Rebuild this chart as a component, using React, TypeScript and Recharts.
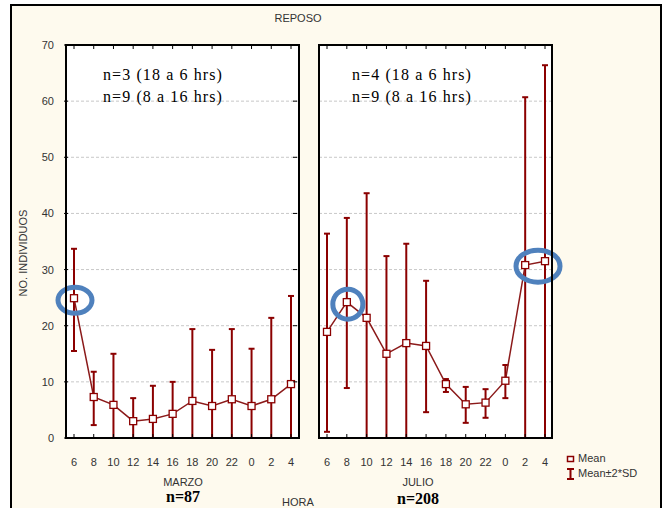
import { ComposedChart, Line, XAxis, YAxis, CartesianGrid, ErrorBar, ReferenceDot } from 'recharts';

const horas = ['6', '8', '10', '12', '14', '16', '18', '20', '22', '0', '2', '4'];
const yTicks = [0, 10, 20, 30, 40, 50, 60, 70];

// MARZO
const marzoMedia = [24.9, 7.3, 5.9, 3.0, 3.4, 4.3, 6.6, 5.7, 6.9, 5.7, 6.9, 9.6];
const marzoBajo = [15.5, 2.3, 0, 0, 0, 0, 0, 0, 0, 0, 0, 0];
const marzoAlto = [33.7, 11.8, 15.0, 7.1, 9.3, 10.0, 19.4, 15.7, 19.4, 15.9, 21.4, 25.3];

// JULIO
const julioMedia = [18.9, 24.2, 21.4, 15.0, 16.9, 16.4, 9.6, 6.0, 6.3, 10.2, 30.8, 31.5];
const julioBajo = [1.1, 8.9, 0, 0, 0, 4.6, 8.2, 2.7, 3.6, 7.1, 0, 0];
const julioAlto = [36.4, 39.2, 43.6, 32.4, 34.6, 28.0, 10.5, 9.1, 8.7, 13.0, 60.7, 66.4];

const ROJO = '#8b0000';
const SANS = '"Liberation Sans", Arial, sans-serif';
const SERIF = '"Liberation Serif", "Times New Roman", serif';

// area de trazado (px)
const TOP = 45;
const BOTTOM = 438;
const ANCHO = 233;

function armar(media: number[], bajo: number[], alto: number[]) {
  return horas.map((h, i) => ({
    hora: h,
    media: media[i],
    err: [media[i] - bajo[i], alto[i] - media[i]],
  }));
}

const Cuadro = (p: any) => {
  if (p.cx == null) return null;
  return (
    <rect key={p.index} x={p.cx - 3.5} y={p.cy - 3.5} width={7} height={7} fill="#fff" stroke={ROJO} strokeWidth={1.3} />
  );
};

const Elipse = (rx: number, ry: number, dx: number, dy: number) => (p: any) => (
  <ellipse cx={p.cx + dx} cy={p.cy + dy} rx={rx} ry={ry} fill="none" stroke="#4f81bd" strokeWidth={5} />
);

function Panel({ datos, conEtiquetas, marcas }: any) {
  const YTick = (p: any) => (
    <g>
      {conEtiquetas && (
        <text x={p.x - 10} y={p.y + 4} textAnchor="end" fontSize={11} fontFamily={SANS} fill="#333">
          {p.payload.value}
        </text>
      )}
      <line x1={p.x} x2={p.x + 4} y1={p.y} y2={p.y} stroke="#000" />
      <line x1={p.x + ANCHO - 4} x2={p.x + ANCHO} y1={p.y} y2={p.y} stroke="#000" />
    </g>
  );
  const XTick = (p: any) => (
    <g>
      <line x1={p.x} x2={p.x} y1={BOTTOM} y2={BOTTOM - 4} stroke="#000" />
      <line x1={p.x} x2={p.x} y1={TOP} y2={TOP + 4} stroke="#000" />
      <text x={p.x} y={p.y + 26} textAnchor="middle" fontSize={11} fontFamily={SANS} fill="#333">
        {p.payload.value}
      </text>
    </g>
  );

  return (
    <ComposedChart
      width={conEtiquetas ? 310 : 264}
      height={508}
      data={datos}
      margin={{ top: TOP, right: 11, bottom: 40, left: conEtiquetas ? 0 : 19 }}
    >
      <CartesianGrid vertical={false} strokeDasharray="3 2" stroke="#c8c8c8" fill="#fff" />
      <XAxis dataKey="hora" height={30} padding={{ left: 8, right: 8 }} tickSize={0} tickLine={false} axisLine={false} interval={0} tick={XTick} />
      <YAxis domain={[0, 70]} ticks={yTicks} width={conEtiquetas ? 66 : 0} tickSize={0} tickLine={false} axisLine={false} tick={YTick} />
      <Line dataKey="media" stroke="#8b1a1a" strokeWidth={1.5} dot={Cuadro} activeDot={false} isAnimationActive={false}>
        <ErrorBar dataKey="err" direction="y" width={3} stroke={ROJO} strokeWidth={2} />
      </Line>
      {marcas.map((m: any, i: number) => (
        <ReferenceDot key={i} x={m.x} y={m.y} r={1} ifOverflow="visible" shape={Elipse(m.rx, m.ry, m.dx, m.dy)} />
      ))}
    </ComposedChart>
  );
}

const txt = (extra: any) => ({ position: 'absolute' as const, whiteSpace: 'nowrap' as const, ...extra });
const marco = (left: number) => ({
  position: 'absolute' as const, left: left - 1, top: TOP - 1, width: ANCHO - 2, height: BOTTOM - TOP - 2,
  border: '2px solid #000', pointerEvents: 'none' as const,
});

export default function App() {
  const marzo = armar(marzoMedia, marzoBajo, marzoAlto);
  const julio = armar(julioMedia, julioBajo, julioAlto);
  return (
    <div style={{ position: 'absolute', left: 0, top: 0, width: 664, height: 508, overflow: 'hidden', background: '#fff' }}>
      <div
        style={{
          position: 'absolute', left: 10, top: 4, width: 648, height: 520,
          border: '2px solid #000', borderBottom: 'none', background: '#fefaee',
        }}
      />
      <div style={{ position: 'absolute', left: 0, top: 0 }}>
        <Panel datos={marzo} conEtiquetas marcas={[{ x: '6', y: 24.9, rx: 17, ry: 13, dx: 1, dy: 2 }]} />
      </div>
      <div style={{ position: 'absolute', left: 300, top: 0 }}>
        <Panel
          datos={julio}
          marcas={[
            { x: '8', y: 24.2, rx: 15, ry: 15, dx: 1, dy: 2 },
            { x: '4', y: 31.5, rx: 22, ry: 16, dx: -7, dy: 5 },
          ]}
        />
      </div>
      <div style={marco(66)} />
      <div style={marco(319)} />

      <div style={txt({ left: 298, top: 18, transform: 'translate(-50%,-50%)', font: `11px ${SANS}`, color: '#333' })}>REPOSO</div>
      <div style={txt({ left: 23, top: 253, transform: 'translate(-50%,-50%) rotate(-90deg)', font: `11px ${SANS}`, color: '#333' })}>NO. INDIVIDUOS</div>

      <div style={txt({ left: 103, top: 64, font: `16px ${SERIF}`, lineHeight: '22px', letterSpacing: 1.1, color: '#000' })}>
        n=3 (18 a 6 hrs)<br />n=9 (8 a 16 hrs)
      </div>
      <div style={txt({ left: 352, top: 64, font: `16px ${SERIF}`, lineHeight: '22px', letterSpacing: 1.1, color: '#000' })}>
        n=4 (18 a 6 hrs)<br />n=9 (8 a 16 hrs)
      </div>

      <div style={txt({ left: 183, top: 482, transform: 'translate(-50%,-50%)', font: `11px ${SANS}`, color: '#333' })}>MARZO</div>
      <div style={txt({ left: 183, top: 497, transform: 'translate(-50%,-50%)', font: `bold 16px ${SERIF}`, color: '#000' })}>n=87</div>
      <div style={txt({ left: 298, top: 502, transform: 'translate(-50%,-50%)', font: `11px ${SANS}`, color: '#333' })}>HORA</div>
      <div style={txt({ left: 418, top: 482, transform: 'translate(-50%,-50%)', font: `11px ${SANS}`, color: '#333' })}>JULIO</div>
      <div style={txt({ left: 418, top: 499, transform: 'translate(-50%,-50%)', font: `bold 16px ${SERIF}`, color: '#000' })}>n=208</div>

      <div style={txt({ left: 566, top: 451, font: `11px ${SANS}`, color: '#333', lineHeight: '15px' })}>
        <div>
          <svg width={10} height={10} style={{ verticalAlign: 'middle', marginRight: 2 }}>
            <rect x={1.5} y={2.5} width={6} height={5} fill="#fff" stroke={ROJO} strokeWidth={1.5} />
          </svg>
          Mean
        </div>
        <div>
          <svg width={10} height={12} style={{ verticalAlign: 'middle', marginRight: 2 }}>
            <line x1={1} x2={8} y1={1} y2={1} stroke={ROJO} strokeWidth={2} />
            <line x1={4.5} x2={4.5} y1={1} y2={11} stroke={ROJO} strokeWidth={2} />
            <line x1={1} x2={8} y1={11} y2={11} stroke={ROJO} strokeWidth={2} />
          </svg>
          Mean±2*SD
        </div>
      </div>
    </div>
  );
}
